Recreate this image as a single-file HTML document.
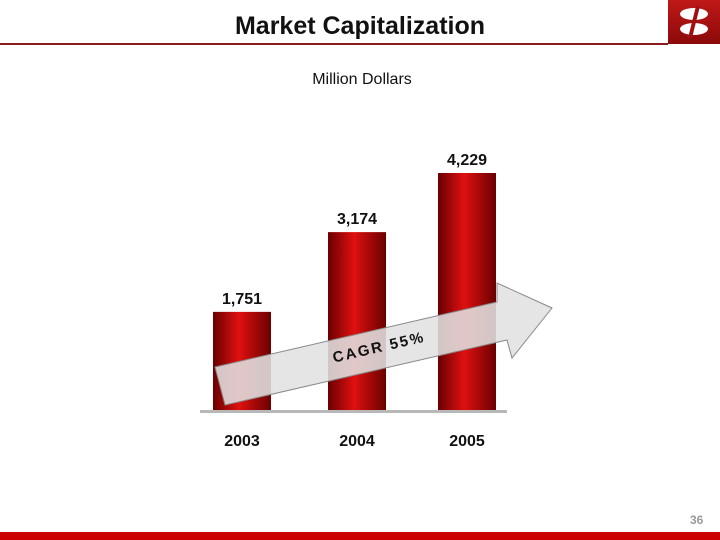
<!DOCTYPE html>
<html><head><meta charset="utf-8"><style>
body{margin:0;width:720px;height:540px;background:#fff;position:relative;overflow:hidden;font-family:"Liberation Sans",sans-serif}
.t{position:absolute;font-weight:bold;white-space:nowrap}
</style></head><body>
<div class="t" style="left:0;width:720px;text-align:center;top:12px;font-size:25px;color:#111">Market Capitalization</div>
<div style="position:absolute;left:0;top:43px;width:668px;height:2px;background:#8b1a1a"></div>
<div style="position:absolute;left:668px;top:0;width:52px;height:44px;background:linear-gradient(#c01818,#8b0a0a)">
<svg width="52" height="44"><ellipse cx="26" cy="14" rx="14" ry="6" fill="#fff"/><ellipse cx="26" cy="29" rx="14" ry="6" fill="#fff"/><polygon points="28,6 32,6 24,38 20,38" fill="#a01010"/></svg></div>
<div class="t" style="left:0;width:720px;text-align:center;top:71px;font-size:16px;font-weight:normal;color:#111;padding-left:4px;box-sizing:border-box">Million Dollars</div>
<svg id="c" width="720" height="540" style="position:absolute;left:0;top:0">
<defs><linearGradient id="g" x1="0" x2="1"><stop offset="0" stop-color="#6a0000"/><stop offset="0.45" stop-color="#e01010"/><stop offset="1" stop-color="#6a0000"/></linearGradient></defs>
</svg>
<div class="t" style="left:690px;top:513px;font-size:12px;color:#999">36</div>
<div style="position:absolute;left:0;top:532px;width:720px;height:8px;background:#c00"></div>
<script>
const categories=["2003","2004","2005"];
const values=[1751,3174,4229];
const labels=["1,751","3,174","4,229"];
const svg=document.getElementById('c');const ns="http://www.w3.org/2000/svg";
const base=410,k=237/4229;
const xs=[213,328,438],bw=58;
function y(v){return base-v*k;}
function mk(t,a){const e=document.createElementNS(ns,t);for(const p in a)e.setAttribute(p,a[p]);svg.appendChild(e);return e;}
const ax=mk('rect',{x:200,y:410,width:307,height:3,fill:'#b8b8b8'});


categories.forEach((c,i)=>{
 const r=mk('rect',{x:xs[i],y:y(values[i]),width:bw,height:base-y(values[i]),fill:'url(#g)'});
 
 
 const l=mk('text',{x:xs[i]+bw/2,y:y(values[i])-8,'text-anchor':'middle','font-size':16,'font-weight':'bold',fill:'#111'});
 l.textContent=labels[i];
 
 
 const t=mk('text',{x:xs[i]+bw/2,y:446,'text-anchor':'middle','font-size':16,'font-weight':'bold',fill:'#111'});
 t.textContent=c;
 
 
});
const ar=mk('polygon',{points:'225,405 215,367 497,302 497,283 552,308 512,358 507,340',fill:'rgba(225,225,225,0.88)',stroke:'#888','stroke-width':1});


const ct=mk('text',{x:380,y:352,'text-anchor':'middle','font-size':15,'font-weight':'bold',fill:'#111','letter-spacing':2,transform:'rotate(-13 380 352)'});
ct.textContent='CAGR  55%';


</script>
</body></html>
